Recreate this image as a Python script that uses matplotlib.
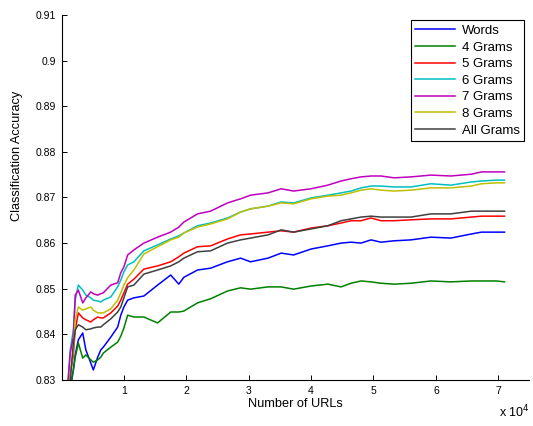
import numpy as np
import matplotlib
matplotlib.use("Agg")
import matplotlib.pyplot as plt

plt.rcParams['font.family'] = ['Liberation Sans', 'DejaVu Sans']

# x positions (in units of 10^4 URLs)
urls = [0.10, 0.14, 0.19, 0.22, 0.27, 0.34, 0.39, 0.47, 0.51, 0.58,
        0.63, 0.67, 0.79, 0.90, 0.95, 1.00, 1.06, 1.16, 1.32, 1.54,
        1.75, 1.88, 1.96, 2.18, 2.39, 2.66, 2.87, 3.03, 3.31, 3.52,
        3.72, 4.00, 4.27, 4.48, 4.64, 4.80, 4.96, 5.12, 5.33, 5.60,
        5.92, 6.24, 6.57, 6.73, 6.97, 7.10]

words = [0.8267, 0.8278, 0.8322, 0.8355, 0.8388, 0.8403, 0.8366, 0.8337, 0.8322, 0.8350,
         0.8366, 0.8372, 0.8394, 0.8416, 0.8442, 0.8460, 0.8475, 0.8480, 0.8484, 0.8508,
         0.8530, 0.8510, 0.8525, 0.8541, 0.8545, 0.8559, 0.8567, 0.8559, 0.8567, 0.8578,
         0.8574, 0.8587, 0.8594, 0.8600, 0.8602, 0.8600, 0.8607, 0.8602, 0.8605, 0.8607,
         0.8613, 0.8611, 0.8620, 0.8624, 0.8624, 0.8624]
grams4 = [0.8267, 0.8289, 0.8322, 0.8350, 0.8381, 0.8348, 0.8355, 0.8344, 0.8339, 0.8344,
          0.8350, 0.8359, 0.8372, 0.8383, 0.8396, 0.8414, 0.8442, 0.8438, 0.8438, 0.8425,
          0.8449, 0.8449, 0.8451, 0.8469, 0.8478, 0.8495, 0.8502, 0.8499, 0.8504, 0.8504,
          0.8499, 0.8506, 0.8510, 0.8504, 0.8512, 0.8517, 0.8515, 0.8512, 0.8510, 0.8512,
          0.8517, 0.8515, 0.8517, 0.8517, 0.8517, 0.8515]
grams5 = [0.8267, 0.8311, 0.8355, 0.8410, 0.8447, 0.8436, 0.8432, 0.8427, 0.8432, 0.8438,
          0.8436, 0.8436, 0.8447, 0.8462, 0.8475, 0.8491, 0.8510, 0.8521, 0.8543, 0.8550,
          0.8559, 0.8570, 0.8578, 0.8592, 0.8594, 0.8609, 0.8618, 0.8620, 0.8624, 0.8627,
          0.8624, 0.8633, 0.8638, 0.8644, 0.8649, 0.8649, 0.8655, 0.8649, 0.8649, 0.8651,
          0.8653, 0.8653, 0.8657, 0.8659, 0.8659, 0.8659]
grams6 = [0.8289, 0.8366, 0.8410, 0.8475, 0.8508, 0.8497, 0.8486, 0.8480, 0.8475, 0.8473,
          0.8471, 0.8475, 0.8482, 0.8504, 0.8519, 0.8537, 0.8552, 0.8559, 0.8583, 0.8596,
          0.8609, 0.8616, 0.8622, 0.8638, 0.8644, 0.8655, 0.8668, 0.8675, 0.8681, 0.8690,
          0.8688, 0.8699, 0.8705, 0.8710, 0.8714, 0.8721, 0.8725, 0.8725, 0.8723, 0.8723,
          0.8730, 0.8727, 0.8734, 0.8736, 0.8738, 0.8738]
grams7 = [0.8289, 0.8359, 0.8394, 0.8486, 0.8497, 0.8469, 0.8480, 0.8493, 0.8489, 0.8486,
          0.8489, 0.8491, 0.8508, 0.8513, 0.8535, 0.8548, 0.8574, 0.8585, 0.8600, 0.8613,
          0.8624, 0.8635, 0.8646, 0.8664, 0.8670, 0.8688, 0.8697, 0.8705, 0.8710, 0.8719,
          0.8714, 0.8719, 0.8727, 0.8736, 0.8741, 0.8745, 0.8747, 0.8747, 0.8743, 0.8745,
          0.8749, 0.8747, 0.8751, 0.8756, 0.8756, 0.8756]
grams8 = [0.8278, 0.8311, 0.8366, 0.8432, 0.8460, 0.8453, 0.8456, 0.8460, 0.8453, 0.8447,
          0.8447, 0.8447, 0.8456, 0.8475, 0.8491, 0.8508, 0.8524, 0.8541, 0.8576, 0.8592,
          0.8607, 0.8613, 0.8622, 0.8635, 0.8642, 0.8653, 0.8668, 0.8675, 0.8681, 0.8688,
          0.8686, 0.8697, 0.8703, 0.8705, 0.8710, 0.8716, 0.8719, 0.8716, 0.8714, 0.8716,
          0.8721, 0.8721, 0.8725, 0.8730, 0.8732, 0.8732]
all_grams = [0.8267, 0.8300, 0.8381, 0.8410, 0.8421, 0.8416, 0.8410, 0.8412, 0.8414, 0.8416,
             0.8416, 0.8421, 0.8434, 0.8449, 0.8460, 0.8480, 0.8504, 0.8508, 0.8532, 0.8541,
             0.8550, 0.8559, 0.8567, 0.8581, 0.8583, 0.8600, 0.8607, 0.8611, 0.8618, 0.8629,
             0.8624, 0.8631, 0.8638, 0.8649, 0.8653, 0.8657, 0.8659, 0.8657, 0.8657, 0.8657,
             0.8664, 0.8664, 0.8670, 0.8670, 0.8670, 0.8670]

series = [words, grams4, grams5, grams6, grams7, grams8, all_grams]
labels = ['Words', '4 Grams', '5 Grams', '6 Grams', '7 Grams', '8 Grams', 'All Grams']
colors = ['#0000ff', '#008000', '#ff0000', '#00bfbf', '#bf00bf', '#bfbf00', '#404040']

yticks = [0.83, 0.84, 0.85, 0.86, 0.87, 0.88, 0.89, 0.90, 0.91]
ytick_labels = ['0.83', '0.84', '0.85', '0.86', '0.87', '0.88', '0.89', '0.9', '0.91']
xticks = [1, 2, 3, 4, 5, 6, 7]

fig = plt.figure(figsize=(5.33, 4.26), dpi=100)
ax = fig.add_axes([0.1154, 0.108, 0.878, 0.857])

x = np.array(urls) * 1e4
for y, lab, c in zip(series, labels, colors):
    ax.plot(x, y, color=c, lw=1.1, label=lab)

ax.set_xlim(0, 7.5e4)
ax.set_ylim(0.83, 0.91)
ax.set_yticks(yticks)
ax.set_yticklabels(ytick_labels)
ax.set_xticks(np.array(xticks) * 1e4)
ax.set_xticklabels([str(t) for t in xticks])
ax.tick_params(direction='in', length=3.5, width=0.7, labelsize=7.5, colors='black', pad=4)
for s in ['top', 'right']:
    ax.spines[s].set_visible(False)
for s in ['left', 'bottom']:
    ax.spines[s].set_linewidth(0.8)

ax.set_xlabel('Number of URLs', fontsize=9.2, labelpad=2)
ax.set_ylabel('Classification Accuracy', fontsize=9.2)
ax.yaxis.set_label_coords(-0.082, 0.614)
fig.text(0.937, 0.02, r'x 10$^{4}$', fontsize=9)

leg = ax.legend(loc='upper right', fontsize=9.5, fancybox=False, framealpha=1,
                edgecolor='black', borderaxespad=0.4, handlelength=3.0,
                labelspacing=0.33, borderpad=0.35, handletextpad=0.5)
leg.get_frame().set_linewidth(0.8)

fig.savefig('out.png', dpi=100)
